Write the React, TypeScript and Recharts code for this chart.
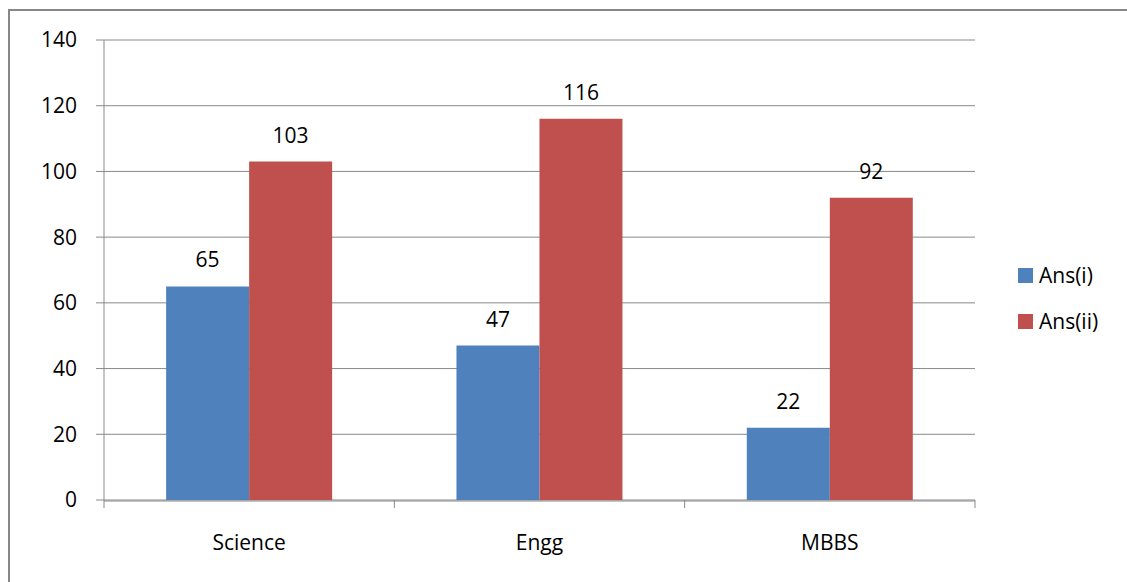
import React from 'react';
import { BarChart, Bar, XAxis, YAxis, CartesianGrid, Legend, LabelList } from 'recharts';

const categories = ['Science', 'Engg', 'MBBS'];
const ansI = [65, 47, 22];
const ansII = [103, 116, 92];
const yTicks = [0, 20, 40, 60, 80, 100, 120, 140];
const edgeTicks = [0, 1, 2, 3];

const data = categories.map((c, i) => ({ name: c, pos: i + 0.5, a: ansI[i], b: ansII[i] }));

const FONT = '"Open Sans", "DejaVu Sans", sans-serif';
const FS = 21;
const GRID = '#898989';

const LegendContent = (props: any) => {
  const { payload } = props;
  return (
    <div style={{ fontFamily: FONT, fontSize: FS, color: '#000' }}>
      {(payload || []).map((p: any) => (
        <div key={p.value} style={{ display: 'flex', alignItems: 'center', height: 46 }}>
          <span style={{ display: 'inline-block', width: 15, height: 15, background: p.color, marginRight: 6 }} />
          <span>{p.value}</span>
        </div>
      ))}
    </div>
  );
};

export default function App() {
  return (
    <div style={{ position: 'absolute', left: 0, top: 0, width: 1127, height: 582, overflow: 'hidden', background: '#fff' }}>
      <div style={{ position: 'absolute', left: 8, top: 9, width: 1300, height: 800, border: '2px solid #878787', boxSizing: 'border-box' }} />
      <div style={{ position: 'absolute', left: 0, top: 0 }}>
        <BarChart
          width={1127}
          height={582}
          data={data}
          margin={{ top: 40, right: 152, bottom: 0, left: 0 }}
          barCategoryGap="21.4%"
          barGap={0}
          style={{ fontFamily: FONT }}
        >
          <CartesianGrid vertical={false} stroke={GRID} strokeWidth={1} />
          <XAxis
            xAxisId={0}
            dataKey="pos"
            type="number"
            domain={[0, 3]}
            ticks={edgeTicks}
            tickFormatter={() => ''}
            axisLine={false}
            tickLine={{ stroke: GRID }}
            tickSize={8}
            height={1}
          />
          <XAxis
            xAxisId="cat"
            dataKey="name"
            type="category"
            axisLine={{ stroke: GRID }}
            tickLine={false}
            tickSize={8}
            tickMargin={26}
            tick={{ fill: '#000', fontSize: FS, fontFamily: FONT }}
            height={81}
            interval={0}
          />
          <YAxis
            domain={[0, 140]}
            ticks={yTicks}
            width={104}
            axisLine={{ stroke: GRID }}
            tickLine={{ stroke: GRID }}
            tickSize={8}
            tickMargin={19}
            tick={{ fill: '#000', fontSize: FS, fontFamily: FONT }}
            interval={0}
          />
          <Legend
            layout="vertical"
            align="center"
            verticalAlign="middle"
            content={<LegendContent />}
            wrapperStyle={{ left: 1018, top: 252, width: 'auto' }}
          />
          <Bar xAxisId="cat" dataKey="a" name="Ans(i)" fill="#4F81BD" isAnimationActive={false}>
            <LabelList dataKey="a" position="top" offset={19} fill="#000" fontSize={FS} fontFamily={FONT} />
          </Bar>
          <Bar xAxisId="cat" dataKey="b" name="Ans(ii)" fill="#C0504D" isAnimationActive={false}>
            <LabelList dataKey="b" position="top" offset={19} fill="#000" fontSize={FS} fontFamily={FONT} />
          </Bar>
        </BarChart>
      </div>
    </div>
  );
}
